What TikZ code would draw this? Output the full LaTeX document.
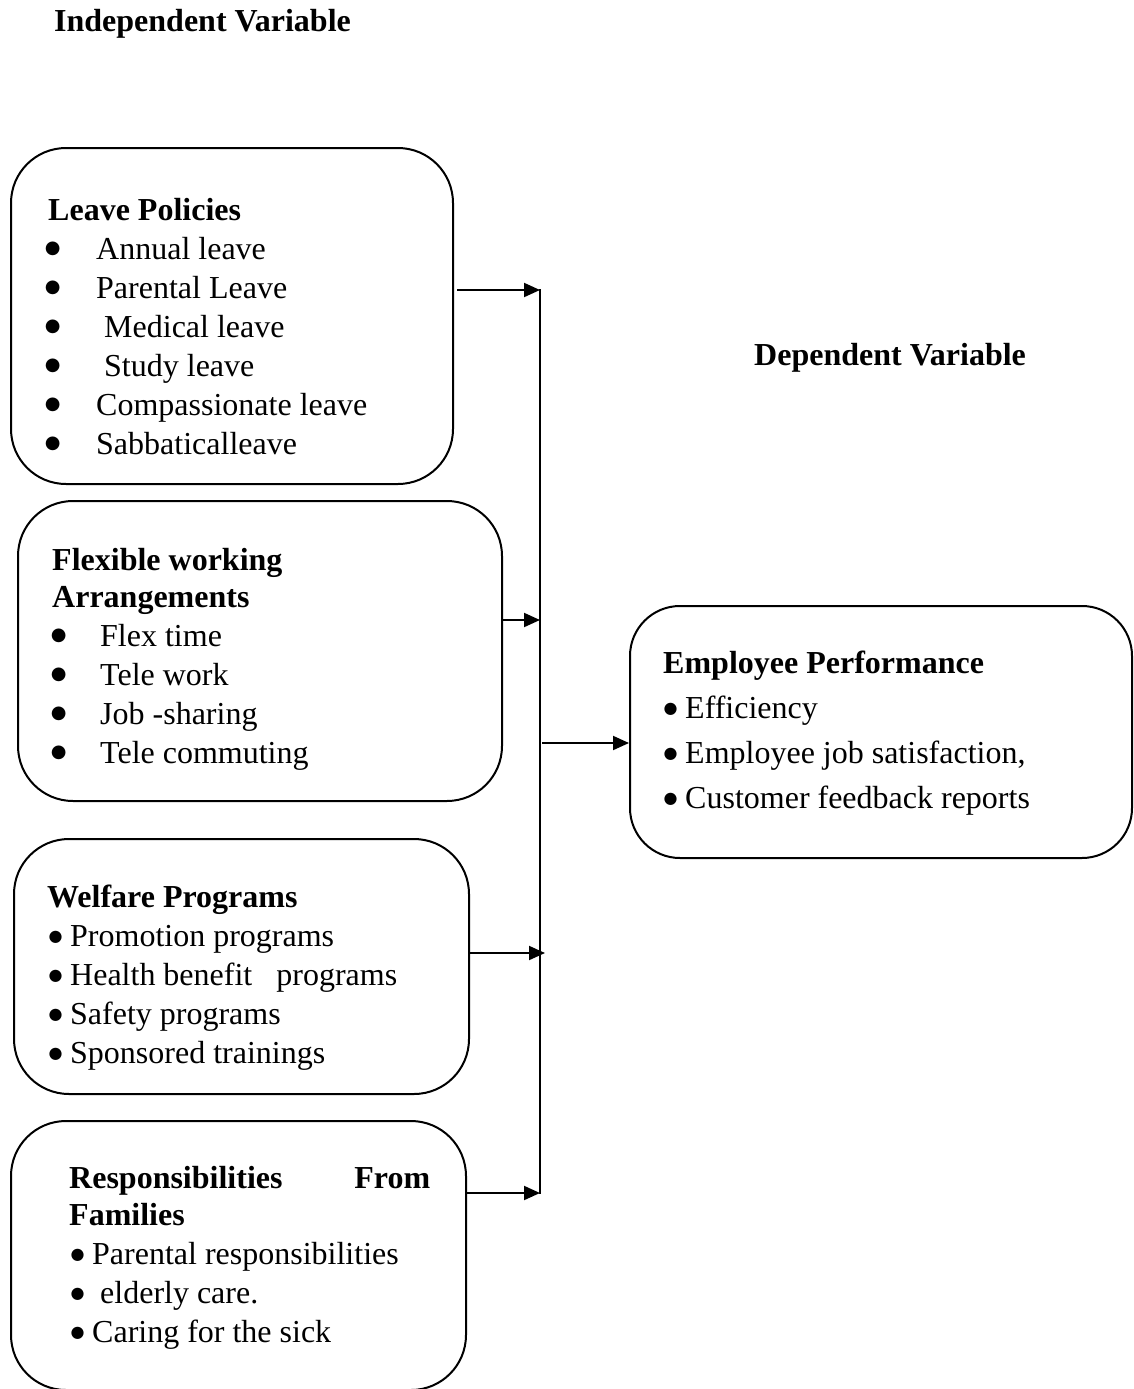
\documentclass[tikz,border=0pt]{standalone}
\usepackage{fontspec}
\setmainfont{Liberation Serif}
\newfontfamily\symfont{DejaVu Sans}
\usetikzlibrary{arrows.meta}
\newcommand{\bigbul}{\makebox[11pt][c]{\raisebox{5.5pt}{\fontsize{18}{20}\symfont ●}}}
\newcommand{\inbul}{\makebox[13pt][c]{\raisebox{5pt}{\fontsize{16}{20}\symfont ●}}}
\tikzset{
  box/.style={draw, line width=2pt, rounded corners=55pt, anchor=north west, inner sep=0pt},
  txt/.style={anchor=base west, inner sep=0pt, font=\fontsize{32}{39}\selectfont},
  btxt/.style={txt, font=\fontsize{32}{39}\selectfont\bfseries},
  arr/.style={line width=2pt, -{Triangle[length=16pt,width=14pt]}},
  bus/.style={line width=2pt}
}
\begin{document}
\begin{tikzpicture}[x=1pt,y=-1pt]
\useasboundingbox (0,0) rectangle (1133,1389);

% headers
\node[btxt] (indep) at (54,32) {Independent Variable};
\node[btxt] (dep) at (754,365) {Dependent Variable};

% boxes
\node[box, minimum width=442pt, minimum height=336pt] (leave) at (10,147) {};
\node[box, minimum width=484pt, minimum height=300pt] (flex) at (17,500) {};
\node[box, minimum width=455pt, minimum height=255pt] (welf) at (13,838) {};
\node[box, minimum width=455pt, minimum height=269pt] (resp) at (10,1120) {};
\node[box, minimum width=502pt, minimum height=252pt, rounded corners=50pt] (perf) at (629,605) {};

% Leave policies
\node[btxt] (l0) at (48,220) {Leave Policies};
\node[txt] (lb1) at (47,259) {\bigbul};
\node[txt] (l1) at (96,259) {Annual leave};
\node[txt] (lb2) at (47,298) {\bigbul};
\node[txt] (l2) at (96,298) {Parental Leave};
\node[txt] (lb3) at (47,337) {\bigbul};
\node[txt] (l3) at (104,337) {Medical leave};
\node[txt] (lb4) at (47,376) {\bigbul};
\node[txt] (l4) at (104,376) {Study leave};
\node[txt] (lb5) at (47,415) {\bigbul};
\node[txt] (l5) at (96,415) {Compassionate leave};
\node[txt] (lb6) at (47,454) {\bigbul};
\node[txt] (l6) at (96,454) {Sabbaticalleave};

% Flexible working
\node[btxt] (f0) at (52,570) {Flexible working};
\node[btxt] (f0b) at (52,607) {Arrangements};
\node[txt] (fb1) at (53,646) {\bigbul};
\node[txt] (f1) at (100,646) {Flex time};
\node[txt] (fb2) at (53,685) {\bigbul};
\node[txt] (f2) at (100,685) {Tele work};
\node[txt] (fb3) at (53,724) {\bigbul};
\node[txt] (f3) at (100,724) {Job -sharing};
\node[txt] (fb4) at (53,763) {\bigbul};
\node[txt] (f4) at (100,763) {Tele commuting};

% Welfare
\node[btxt] (w0) at (47,907) {Welfare Programs};
\node[txt] (w1) at (49,946) {\inbul\ Promotion programs};
\node[txt] (w2) at (49,985) {\inbul\ Health benefit\ \ \ programs};
\node[txt] (w3) at (49,1024) {\inbul\ Safety programs};
\node[txt] (w4) at (49,1063) {\inbul\ Sponsored trainings};

% Responsibilities
\node[btxt] (r0) at (69,1188) {\hbox to 361pt{Responsibilities\hfill From}};
\node[btxt] (r0b) at (69,1225) {Families};
\node[txt] (r1) at (71,1264) {\inbul\ Parental responsibilities};
\node[txt] (r2) at (71,1303) {\inbul\ \ elderly care.};
\node[txt] (r3) at (71,1342) {\inbul\ Caring for the sick};

% Employee performance
\node[btxt] (p0) at (663,673) {Employee Performance};
\node[txt] (p1) at (664,718) {\inbul\ Efficiency};
\node[txt] (p2) at (664,763) {\inbul\ Employee job satisfaction,};
\node[txt] (p3) at (664,808) {\inbul\ Customer feedback reports};

% bus coordinates
\coordinate (b1) at (540,290);
\coordinate (b2) at (540,620);
\coordinate (b3) at (545,953);
\coordinate (b4) at (540,1193);
\coordinate (bm) at (542,743);

\draw[bus] (540,289) coordinate (btop) -- (540,1194) coordinate (bbot);
\draw[arr] ([xshift=3pt]leave.east |- b1) -- (b1);
\draw[arr] (flex.east |- b2) -- (b2);
\draw[arr] (welf.east |- b3) -- (b3);
\draw[arr] (resp.east |- b4) -- (b4);
\draw[arr] (bm) -- (perf.west |- bm);
\end{tikzpicture}
\end{document}
